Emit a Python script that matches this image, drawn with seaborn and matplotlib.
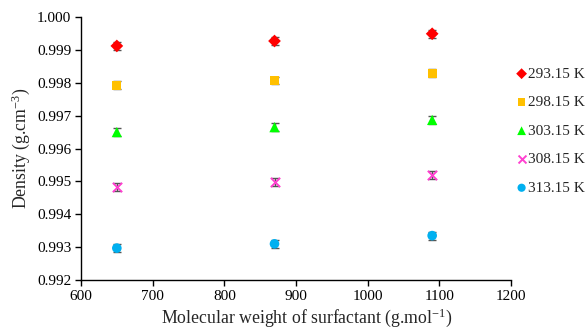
import matplotlib
matplotlib.use("Agg")
import matplotlib.pyplot as plt
import seaborn as sns
import pandas as pd
import numpy as np

mol_weight = [650, 870, 1090]
temps = ["293.15 K", "298.15 K", "303.15 K", "308.15 K", "313.15 K"]
d_293 = [0.99912, 0.99927, 0.99949]
d_298 = [0.99793, 0.99807, 0.99829]
d_303 = [0.99650, 0.99665, 0.99687]
d_308 = [0.99484, 0.99498, 0.99520]
d_313 = [0.99297, 0.99310, 0.99335]
err = [0.00012, 0.00012, 0.00012]

series = [d_293, d_298, d_303, d_308, d_313]
colors = ["#FF0000", "#FFC000", "#00FF00", "#FF40D0", "#00B0F0"]
markers = ["D", "s", "^", "X", "o"]

rows = []
for t, vals in zip(temps, series):
    for x, v, e in zip(mol_weight, vals, err):
        rows.append({"mw": x, "density": v, "err": e, "T": t})
df = pd.DataFrame(rows)

sns.set_style("ticks")
plt.rcParams["font.family"] = ["Liberation Serif", "DejaVu Serif"]
plt.rcParams["mathtext.fontset"] = "stix"

fig = plt.figure(figsize=(5.85, 3.28), dpi=100)
ax = fig.add_axes([81/585, 1 - 280/328, 430/585, 263/328])

for t, c, m in zip(temps, colors, markers):
    sub = df[df["T"] == t]
    ax.errorbar(sub["mw"], sub["density"], yerr=sub["err"], fmt="none",
                ecolor="#555555", elinewidth=1.0, capsize=3.2, capthick=1.0, zorder=2)

ms = {"D": 42, "s": 42, "^": 55, "X": 50, "o": 48}
for t, c, m in zip(temps, colors, markers):
    sub = df[df["T"] == t]
    if m == "X":
        sns.scatterplot(data=sub, x="mw", y="density", ax=ax, color=c, marker="x",
                        s=45, linewidth=1.4, label=t, zorder=3)
    else:
        sns.scatterplot(data=sub, x="mw", y="density", ax=ax, color=c, marker=m,
                        s=ms[m], edgecolor="none", label=t, zorder=3)

ax.set_xlim(600, 1200)
ax.set_ylim(0.992, 1.000)
ax.set_xticks(np.arange(600, 1201, 100))
ax.set_yticks(np.arange(0.992, 1.0001, 0.001))
ax.set_yticklabels([f"{v:.3f}" for v in np.arange(0.992, 1.0001, 0.001)])
ax.tick_params(axis="both", labelsize=11, colors="black", direction="out",
               length=4, width=1.0, pad=3)
for s in ["top", "right"]:
    ax.spines[s].set_visible(False)
for s in ["left", "bottom"]:
    ax.spines[s].set_color("black")
    ax.spines[s].set_linewidth(1.0)

ax.set_xlabel("Molecular weight of surfactant (g.mol$^{\\mathregular{-1}}$)", fontsize=12.75)
ax.set_ylabel("Density (g.cm$^{\\mathregular{-3}}$)", fontsize=12.75)
ax.xaxis.set_label_coords((307 - 81) / 430, -26 / 263)
ax.yaxis.set_label_coords(-49 / 430, 0.5)

leg = ax.legend(loc="upper left", bbox_to_anchor=(517/585, 1 - 67/328),
                bbox_transform=fig.transFigure, frameon=False,
                fontsize=11, handletextpad=0.1, labelspacing=0.97, borderpad=0,
                borderaxespad=0, handlelength=0.6, markerscale=0.85)

fig.savefig("out.png", dpi=100)
